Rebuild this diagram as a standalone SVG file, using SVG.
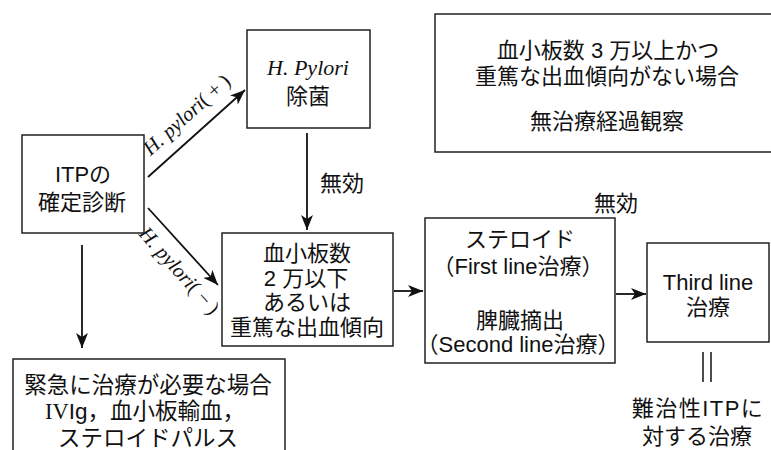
<svg xmlns="http://www.w3.org/2000/svg" width="771" height="450" viewBox="0 0 771 450">
<defs>
<marker id="ah" markerUnits="userSpaceOnUse" markerWidth="16" markerHeight="12" refX="15" refY="6" orient="auto">
<path d="M0,0 L15,6 L0,12 L4,6 z" fill="#111"/>
</marker>
<style>
.box{fill:#fff;stroke:#222;stroke-width:1.5}
.t{font-family:"Liberation Sans","Noto Sans CJK JP",sans-serif;font-size:22px;fill:#111;text-anchor:middle}
.it{font-family:"Liberation Serif",serif;font-style:italic;fill:#111}
.ln{stroke:#111;stroke-width:1.8;fill:none}
</style>
</defs>
<rect width="771" height="450" fill="#fff"/>
<g id="connectors">
<line class="ln" x1="148" y1="177" x2="245" y2="90" marker-end="url(#ah)"/>
<line class="ln" x1="148" y1="208" x2="218" y2="285" marker-end="url(#ah)"/>
<line class="ln" x1="307" y1="133" x2="307" y2="230" marker-end="url(#ah)"/>
<line class="ln" x1="82" y1="245" x2="82" y2="348" marker-end="url(#ah)"/>
<line class="ln" x1="394" y1="291" x2="423" y2="291" marker-end="url(#ah)"/>
<line class="ln" x1="616" y1="294" x2="646" y2="294" marker-end="url(#ah)"/>
<line class="ln" x1="703" y1="352" x2="703" y2="382" style="stroke-width:1.5"/>
<line class="ln" x1="711" y1="352" x2="711" y2="382" style="stroke-width:1.5"/>
<text class="it" font-size="20.5" transform="translate(193,118) rotate(-41.9)" text-anchor="middle">H. pylori<tspan font-style="normal" letter-spacing="5">(+)</tspan></text>
<text class="it" font-size="20.5" transform="translate(176,277) rotate(48.2)" text-anchor="middle">H. pylori<tspan font-style="normal" letter-spacing="5">(−)</tspan></text>
<text class="t" x="320" y="191" style="text-anchor:start">無効</text>
<text class="t" x="616" y="211">無効</text>
</g>
<g id="itp">
<rect class="box" x="22" y="135" width="122" height="98"/>
<text class="t" x="83" y="182">ITPの</text>
<text class="t" x="82" y="210">確定診断</text>
</g>
<g id="hpylori">
<rect class="box" x="247" y="30" width="123" height="98"/>
<text class="it" x="308" y="75" font-size="22" text-anchor="middle">H. Pylori</text>
<text class="t" x="308" y="104">除菌</text>
</g>
<g id="observe">
<rect class="box" x="435" y="14" width="360" height="138"/>
<text class="t" x="608" y="58">血小板数 3 万以上かつ</text>
<text class="t" x="607" y="84">重篤な出血傾向がない場合</text>
<text class="t" x="607" y="129">無治療経過観察</text>
</g>
<g id="platelet">
<rect class="box" x="222" y="233" width="171" height="113"/>
<text class="t" x="307" y="261">血小板数</text>
<text class="t" x="306" y="286">2 万以下</text>
<text class="t" x="307" y="310">あるいは</text>
<text class="t" x="307" y="335">重篤な出血傾向</text>
</g>
<g id="steroid">
<rect class="box" x="425" y="218" width="190" height="145"/>
<text class="t" x="520" y="247">ステロイド</text>
<text class="t" x="518" y="274">（First line治療）</text>
<text class="t" x="520" y="328">脾臓摘出</text>
<text class="t" x="518" y="352">（Second line治療）</text>
</g>
<g id="third">
<rect class="box" x="647" y="243" width="122" height="99"/>
<text class="t" x="708" y="290">Third line</text>
<text class="t" x="708" y="315">治療</text>
</g>
<g id="refractory">
<text class="t" x="698" y="416" letter-spacing="1.5">難治性ITPに</text>
<text class="t" x="697" y="444">対する治療</text>
</g>
<g id="emergency">
<rect class="box" x="13" y="359" width="272" height="110"/>
<text class="t" x="148" y="393" style="font-size:22.5px">緊急に治療が必要な場合</text>
<text class="t" x="145" y="419" style="font-size:22.5px"><tspan font-family="Liberation Serif, serif">IV</tspan>Ig，血小板輸血，</text>
<text class="t" x="148" y="446" style="font-size:22.5px">ステロイドパルス</text>
</g>
</svg>
